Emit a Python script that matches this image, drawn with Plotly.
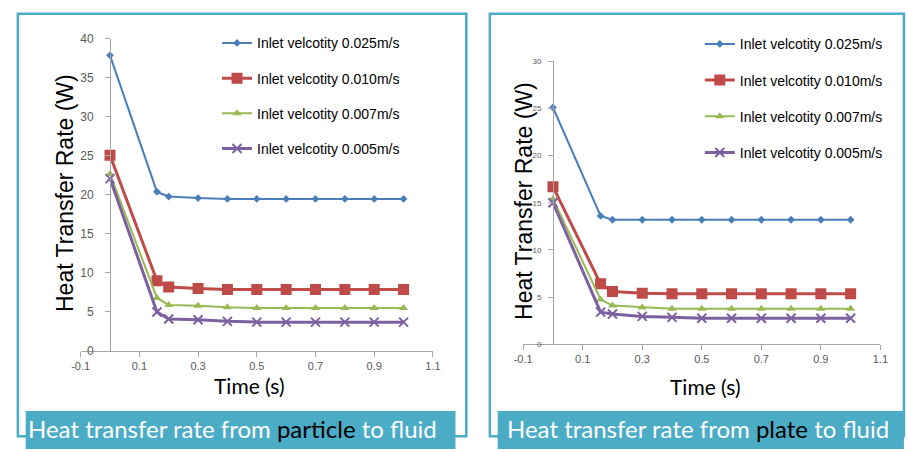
import plotly.graph_objects as go

# ---------------- data ----------------
time_s = [0, 0.16, 0.2, 0.3, 0.4, 0.5, 0.6, 0.7, 0.8, 0.9, 1.0]
series_names = ["Inlet velcotity 0.025m/s", "Inlet velcotity 0.010m/s",
                "Inlet velcotity 0.007m/s", "Inlet velcotity 0.005m/s"]

particle_025 = [37.9, 20.4, 19.8, 19.6, 19.5, 19.5, 19.5, 19.5, 19.5, 19.5, 19.5]
particle_010 = [25.1, 9.0, 8.2, 8.0, 7.9, 7.9, 7.9, 7.9, 7.9, 7.9, 7.9]
particle_007 = [22.7, 6.8, 5.9, 5.8, 5.6, 5.5, 5.5, 5.5, 5.5, 5.5, 5.5]
particle_005 = [22.1, 5.0, 4.1, 4.0, 3.8, 3.7, 3.7, 3.7, 3.7, 3.7, 3.7]

plate_025 = [25.1, 13.6, 13.2, 13.2, 13.2, 13.2, 13.2, 13.2, 13.2, 13.2, 13.2]
plate_010 = [16.7, 6.4, 5.6, 5.4, 5.35, 5.35, 5.35, 5.35, 5.35, 5.35, 5.35]
plate_007 = [15.4, 4.75, 4.1, 3.9, 3.75, 3.75, 3.75, 3.75, 3.75, 3.75, 3.75]
plate_005 = [15.0, 3.4, 3.2, 2.95, 2.85, 2.75, 2.75, 2.75, 2.75, 2.75, 2.75]

x_ticks = [-0.1, 0.1, 0.3, 0.5, 0.7, 0.9, 1.1]
left_y_ticks = [0, 5, 10, 15, 20, 25, 30, 35, 40]
right_y_ticks = [0, 5, 10, 15, 20, 25, 30]
captions = ["particle", "plate"]

# ---------------- styling ----------------
W, H = 908, 452
TEAL = "#4BACC6"
styles = [
    dict(color="#4A7EBB", width=2, symbol="diamond", size=6, lw=0),
    dict(color="#BE4B48", width=3, symbol="square", size=11, lw=0),
    dict(color="#98B954", width=2, symbol="triangle-up", size=8, lw=0),
    dict(color="#7D60A0", width=3, symbol="x-thin", size=9, lw=2),
]

def px_x(p):
    return p / W

def px_y(p):
    return 1 - p / H

fig = go.Figure()

panels = [
    dict(data=[particle_025, particle_010, particle_007, particle_005],
         xa="x", ya="y", legend="legend",
         xdom=(73, 432), ydom=(355, 33), yrange=[0, 40], yticks=left_y_ticks,
         ytickfont=12, standoff=9),
    dict(data=[plate_025, plate_010, plate_007, plate_005],
         xa="x2", ya="y2", legend="legend2",
         xdom=(524, 888), ydom=(348, 56), yrange=[0, 30], yticks=right_y_ticks,
         ytickfont=8, standoff=5),
]

for pi, p in enumerate(panels):
    for si, (vals, st) in enumerate(zip(p["data"], styles)):
        fig.add_trace(go.Scatter(
            x=time_s, y=vals, name=series_names[si], mode="lines+markers",
            xaxis=p["xa"], yaxis=p["ya"], legend=p["legend"],
            legendgroup=f"p{pi}s{si}",
            line=dict(color=st["color"], width=st["width"]),
            marker=dict(symbol=st["symbol"], size=st["size"], color=st["color"],
                        line=dict(width=st["lw"], color=st["color"])),
        ))

xrange = [-0.1, 1.1]
axis_common = dict(showgrid=False, zeroline=False, showline=True,
                   linecolor="#A6A6A6", linewidth=1, ticks="outside",
                   ticklen=5, tickcolor="#A6A6A6")

for pi, p in enumerate(panels):
    x0, x1 = px_x(p["xdom"][0]), px_x(p["xdom"][1])
    y0, y1 = px_y(p["ydom"][0]), px_y(p["ydom"][1])
    ypos = x0 + (0 - xrange[0]) / (xrange[1] - xrange[0]) * (x1 - x0)
    suffix = "" if pi == 0 else "2"
    fig.update_layout(**{
        "xaxis" + suffix: dict(domain=[x0, x1], range=xrange, anchor="y" + suffix,
                               tickvals=x_ticks, ticktext=[f"{t:g}" for t in x_ticks],
                               tickfont=dict(family="Liberation Sans", size=11, color="#595959"),
                               **axis_common),
        "yaxis" + suffix: dict(domain=[y0, y1], range=p["yrange"], anchor="free",
                               position=ypos, tickvals=p["yticks"],
                               ticklabelstandoff=p["standoff"],
                               tickfont=dict(family="Liberation Sans", size=p["ytickfont"], color="#595959"),
                               **axis_common),
    })

# Axis titles as annotations
for xc, yc in [(57, 192), (525, 200)]:
    fig.add_annotation(text="Heat Transfer Rate (W)", xref="paper", yref="paper",
                       x=px_x(xc), y=px_y(yc), showarrow=False, textangle=-90,
                       font=dict(family="Liberation Sans", size=23, color="#000000"),
                       xanchor="center", yanchor="middle")
for xc, yc in [(245, 391), (710, 392)]:
    fig.add_annotation(text="Time (s)", xref="paper", yref="paper",
                       x=px_x(xc), y=px_y(yc), showarrow=False,
                       font=dict(family="Lato", size=21, color="#000000"),
                       xanchor="center", yanchor="middle")

# Frames and caption boxes
shapes = [
    dict(type="rect", xref="paper", yref="paper", x0=px_x(9), x1=px_x(466),
         y0=px_y(443), y1=px_y(7), line=dict(color=TEAL, width=2.5)),
    dict(type="rect", xref="paper", yref="paper", x0=px_x(490), x1=px_x(912),
         y0=px_y(443), y1=px_y(7), line=dict(color=TEAL, width=2.5)),
    dict(type="rect", xref="paper", yref="paper", x0=px_x(17), x1=px_x(455),
         y0=px_y(456), y1=px_y(417), fillcolor=TEAL, line=dict(width=0)),
    dict(type="rect", xref="paper", yref="paper", x0=px_x(498), x1=px_x(912),
         y0=px_y(456), y1=px_y(417), fillcolor=TEAL, line=dict(width=0)),
]
fig.update_layout(shapes=shapes)

for word, xl in zip(captions, [17, 505]):
    fig.add_annotation(
        text=f"Heat transfer rate from <span style='color:#000000'>{word}</span> to fluid",
        xref="paper", yref="paper", x=px_x(xl), y=px_y(435), showarrow=False,
        xanchor="left", yanchor="middle",
        font=dict(family="Lato", size=24, color="#FFFFFF"))

legend_common = dict(font=dict(family="Liberation Sans", size=14, color="#000000"),
                     bgcolor="rgba(0,0,0,0)",
                     xanchor="left", yanchor="top", itemwidth=30)
fig.update_layout(
    legend=dict(x=px_x(212), y=px_y(21), tracegroupgap=14, **legend_common),
    legend2=dict(x=px_x(704), y=px_y(22), tracegroupgap=15, **legend_common),
    width=W, height=H, margin=dict(l=0, r=0, t=0, b=0),
    paper_bgcolor="#FFFFFF", plot_bgcolor="#FFFFFF",
)

fig.write_html("out.html")
